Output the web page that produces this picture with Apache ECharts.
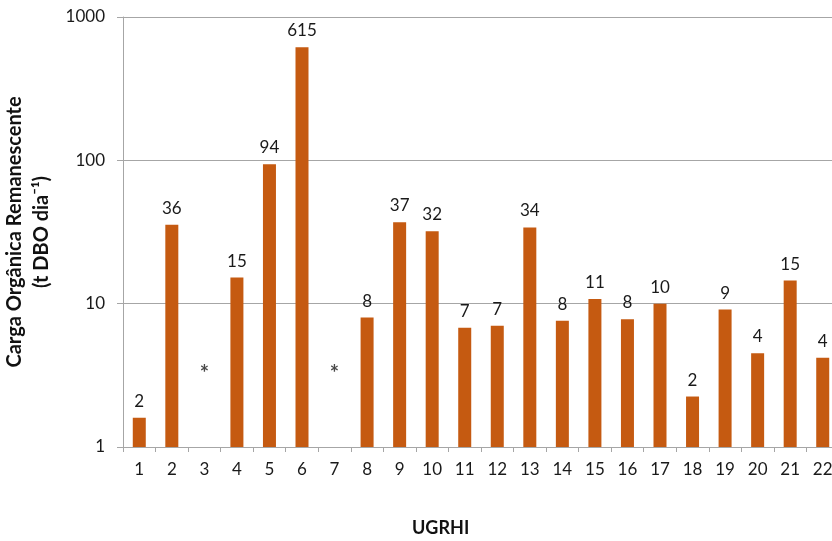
<!DOCTYPE html>
<html>
<head>
<meta charset="utf-8">
<script src="https://cdn.jsdelivr.net/npm/echarts@6/dist/echarts.min.js"></script>
<style>
  html, body { margin: 0; padding: 0; background: #fff; }
  #chart { width: 832px; height: 541px; }
</style>
</head>
<body>
<div id="chart"></div>
<script>
// UGRHI categories
const ugrhi = ['1', '2', '3', '4', '5', '6', '7', '8', '9', '10', '11',
  '12', '13', '14', '15', '16', '17', '18', '19', '20', '21', '22']
// bar heights (t DBO/dia), null where there is no data
const carga = [1.6, 35.6, null, 15.2, 94, 614, null, 8.0, 37, 32, 6.8,
  7.0, 34, 7.6, 10.8, 7.8, 10, 2.25, 9.1, 4.5, 14.5, 4.2]
// printed labels above the bars
const rotulos = ['2', '36', '', '15', '94', '615', '', '8', '37', '32', '7',
  '7', '34', '8', '11', '8', '10', '2', '9', '4', '15', '4']
// "*" markers for missing values
const semDados = [null, null, 3.5, null, null, null, 3.5, null, null, null, null,
  null, null, null, null, null, null, null, null, null, null, null]

const fonte = 'Lato, "Open Sans", sans-serif'
const cinza = '#a6a6a6'

let myChart = echarts.init(document.getElementById('chart'))
let option = {
  animation: false,
  grid: { left: 123, right: -7, top: 17, bottom: 94, outerBoundsMode: 'none', containLabel: false },
  xAxis: {
    type: 'category',
    data: ugrhi,
    axisLine: { lineStyle: { color: cinza } },
    axisTick: { show: true, length: 5, lineStyle: { color: cinza } },
    axisLabel: { color: '#1a1a1a', fontSize: 17, fontFamily: fonte, margin: 14 }
  },
  yAxis: {
    type: 'log',
    logBase: 10,
    min: 1,
    max: 1000,
    name: 'Carga Orgânica Remanescente\n(t DBO dia⁻¹)',
    nameLocation: 'middle',
    nameRotate: 90,
    nameGap: 57,
    nameTextStyle: { color: '#111', fontSize: 20, fontWeight: 'bold', fontFamily: fonte, lineHeight: 27 },
    axisLine: { show: true, lineStyle: { color: cinza } },
    axisTick: { show: true, length: 6, lineStyle: { color: cinza } },
    splitLine: { lineStyle: { color: cinza } },
    axisLabel: { color: '#1a1a1a', fontSize: 17, fontFamily: fonte, margin: 18, formatter: v => String(v) }
  },
  graphic: [{
    type: 'text',
    left: 412,
    top: 519,
    style: { text: 'UGRHI', fontSize: 18, fontWeight: 'bold', fontFamily: fonte, fill: '#111' }
  }],
  series: [{
    type: 'bar',
    data: carga,
    barWidth: 13,
    itemStyle: { color: '#c55a11' },
    label: {
      show: true,
      position: 'top',
      distance: 8,
      color: '#1a1a1a',
      fontSize: 17,
      fontFamily: fonte,
      formatter: p => rotulos[p.dataIndex]
    }
  }, {
    type: 'scatter',
    data: semDados,
    symbolSize: 0,
    label: {
      show: true,
      position: 'inside',
      offset: [0, 5],
      formatter: '*',
      color: '#1a1a1a',
      fontSize: 22,
      fontWeight: 'bold',
      fontFamily: fonte
    }
  }]
}
myChart.setOption(option)
</script>
</body>
</html>
